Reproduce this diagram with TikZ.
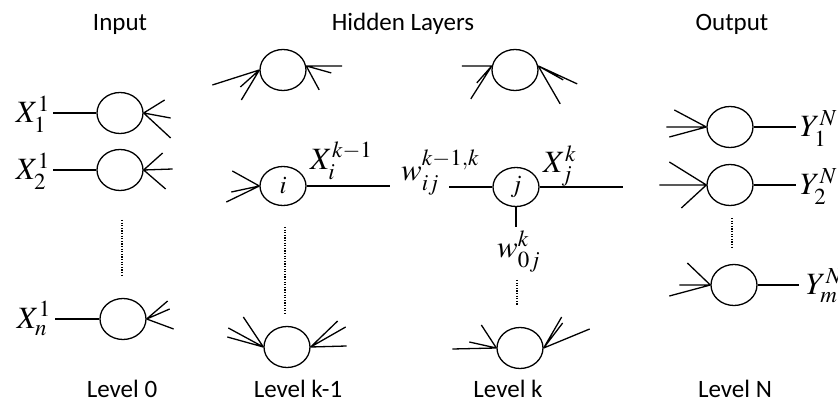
\documentclass[tikz,border=0pt]{standalone}
\usepackage{mathptmx}
\usepackage[no-math]{fontspec}
\newfontfamily\lblfont{Carlito}
\usetikzlibrary{shapes.geometric}
\tikzset{
  neuron/.style={ellipse, draw, line width=1.3pt, minimum width=46pt, minimum height=41pt, inner sep=0pt, font=\fontsize{25}{27}\selectfont},
  wire/.style={line width=1.3pt},
  dotline/.style={line width=1.5pt, dash pattern=on 1.3pt off 1.3pt},
  mlabel/.style={font=\fontsize{31}{33}\selectfont, inner sep=0pt},
  ttl/.style={font=\lblfont\fontsize{25}{27}\selectfont, inner sep=0pt, anchor=base}
}
\begin{document}
\begin{tikzpicture}[x=1pt,y=-1pt]
\useasboundingbox (0,0) rectangle (838,403);
% titles
\node[ttl] (tin) at (120,31) {Input};
\node[ttl] (thid) at (403,31) {Hidden Layers};
\node[ttl] (tout) at (732,31) {Output};
\node[ttl] (l0) at (122,397) {Level 0};
\node[ttl] (lk1) at (298,397) {Level k-1};
\node[ttl] (lk) at (508,397) {Level k};
\node[ttl] (lN) at (735,397) {Level N};
% neurons
\node[neuron] (in1) at (120,113) {};
\node[neuron] (in2) at (120,170) {};
\node[neuron] (inn) at (123,319) {};
\node[neuron] (h1t) at (283,70) {};
\node[neuron, minimum height=39pt] (ni) at (283,186) {$i$};
\node[neuron] (h1b) at (287,347) {};
\node[neuron] (h2t) at (515,70) {};
\node[neuron, minimum height=39pt] (nj) at (516,187) {$j$};
\node[neuron] (h2b) at (520,348) {};
\node[neuron] (o1) at (730,127) {};
\node[neuron] (o2) at (730,185) {};
\node[neuron] (om) at (734,285) {};
% labels
\node[mlabel, anchor=base east] (x1) at (50,123) {$X_1^1$};
\node[mlabel, anchor=base east] (x2) at (50,180) {$X_2^1$};
\node[mlabel, anchor=base east] (xn) at (51,328) {$X_n^1$};
\node[mlabel, anchor=base west] (xi) at (310,170) {$X_i^{k-1}$};
\node[mlabel, anchor=base west] (wij) at (401,181) {$w_{ij}^{k-1,k}$};
\node[mlabel, anchor=base west] (xj) at (543,173) {$X_j^k$};
\node[mlabel, anchor=base west] (w0j) at (497,258) {$w_{0j}^k$};
\node[mlabel, anchor=base west] (y1) at (800,137) {$Y_1^N$};
\node[mlabel, anchor=base west] (y2) at (800,195) {$Y_2^N$};
\node[mlabel, anchor=base west] (ym) at (806,295) {$Y_m^N$};
% input connections
\draw[wire] ([xshift=3pt]x1.east |- in1.west) -- (in1.west);
\draw[wire] ([xshift=3pt]x2.east |- in2.west) -- (in2.west);
\draw[wire] ([xshift=4pt]xn.east |- inn.west) -- (inn.west);
\draw[wire] (in1.east) -- ++(21,-13) (in1.east) -- ++(27,5) (in1.east) -- ++(27,25);
\draw[wire] (in2.east) -- ++(19,-17) (in2.east) -- ++(29,-1) (in2.east) -- ++(22,19);
\draw[wire] (inn.east) -- ++(21,-18) (inn.east) -- ++(23,-10) (inn.east) -- ++(27,10);
% hidden top-left
\draw[wire] (h1t.west) -- ++(-47,15) (h1t.west) -- ++(-19,17) (h1t.west) -- ++(-18,30);
\draw[wire] (h1t.10) -- ++(36,0) (h1t.10) -- ++(25,7) (h1t.10) -- ++(13,24);
% node i
\draw[wire] (ni.west) -- ++(-27,-15) (ni.west) -- ++(-28,6) (ni.west) -- ++(-33,16);
\coordinate (c1) at (390,186);
\coordinate (c2) at (449,187);
\draw[wire] (ni.east) -- (c1);
\draw[wire] (c2) -- (nj.west);
% hidden bottom-left
\draw[wire] (h1b.west) -- ++(-36,-10) (h1b.west) -- ++(-35,-19) (h1b.west) -- ++(-20,-30);
\draw[wire] (h1b.east) -- ++(36,-1) (h1b.east) -- ++(35,-20) (h1b.east) -- ++(27,-26);
% hidden top-right
\draw[wire] (h2t.170) -- ++(-30,0) (h2t.170) -- ++(-15,17) (h2t.170) -- ++(-21,33);
\draw[wire] (h2t.10) -- ++(39,18) (h2t.10) -- ++(25,14) (h2t.10) -- ++(22,38);
% node j
\coordinate (c3) at (623,187);
\coordinate (c4) at (516,227);
\draw[wire] (nj.east) -- (c3);
\draw[wire] (nj.south) -- (c4);
% hidden bottom-right
\draw[wire] (h2b.west) -- ++(-44,1) (h2b.west) -- ++(-27,-6) (h2b.west) -- ++(-15,-23);
\draw[wire] (h2b.east) -- ++(46,-19) (h2b.east) -- ++(19,-25) (h2b.east) -- ++(18,-31);
% outputs
\draw[wire] (o1.west) -- ++(-32,-17) (o1.west) -- ++(-40,0) (o1.west) -- ++(-37,10);
\draw[wire] (o2.west) -- ++(-37,-23) (o2.west) -- ++(-47,0) (o2.west) -- ++(-25,23);
\draw[wire] (om.west) -- ++(-23,-22) (om.west) -- ++(-31,0) (om.west) -- ++(-41,11);
\draw[wire] (o1.east) -- ([xshift=-4pt]y1.west |- o1.east);
\draw[wire] (o2.east) -- ([xshift=-4pt]y2.west |- o2.east);
\draw[wire] (om.east) -- ([xshift=-7pt]ym.west |- om.east);
% dotted
\draw[dotline] (122,220) -- (122,277);
\draw[dotline] (285,227) -- (285,313);
\draw[dotline] (517,280) -- (517,305);
\draw[dotline] (732,218) -- (732,248);
\end{tikzpicture}
\end{document}
